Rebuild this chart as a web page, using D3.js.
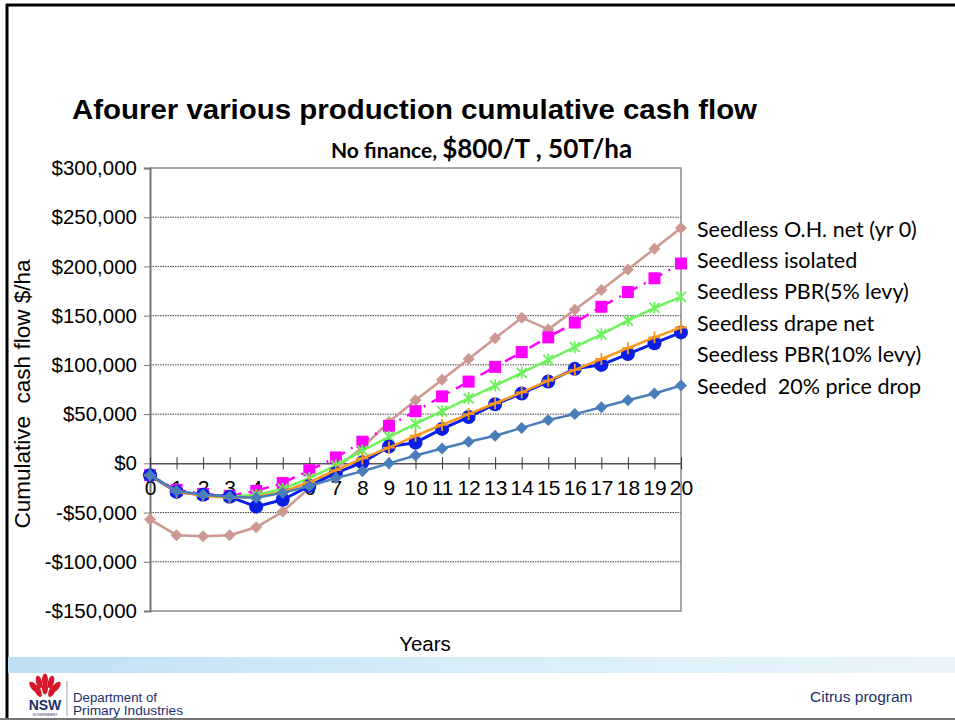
<!DOCTYPE html>
<html>
<head>
<meta charset="utf-8">
<script src="https://cdn.jsdelivr.net/npm/d3@7"></script>
<style>
  html, body { margin: 0; padding: 0; background: #fff; }
  svg { display: block; }
</style>
</head>
<body>
<script>
// data
const years = [0, 1, 2, 3, 4, 5, 6, 7, 8, 9, 10, 11, 12, 13, 14, 15, 16, 17, 18, 19, 20];
const yTicks = [-150000, -100000, -50000, 0, 50000, 100000, 150000, 200000, 250000, 300000];

const seriesNames = [
    'Seedless O.H. net (yr 0)',
    'Seedless isolated',
    'Seedless PBR(5% levy)',
    'Seedless drape net',
    'Seedless PBR(10% levy)',
    'Seeded  20% price drop'
];

const ohNet = [-57000, -73000, -74000, -73000, -65000, -49000, -25000, -5000, 16000, 42000, 64000,
    85000, 106000, 127000, 148000, 136000, 156000, 176000, 197000, 218000, 239000];
const isolated = [-12000, -27000, -31000, -33000, -28000, -20000, -7000, 6000, 22000, 38000, 53000,
    68000, 83000, 98000, 113000, 128000, 143000, 159000, 174000, 188000, 203000];
const pbr5 = [-12000, -29000, -32000, -34000, -32000, -26000, -15000, -2000, 13000, 27000, 40000,
    53000, 66000, 79000, 92000, 105000, 118000, 131000, 145000, 158000, 169000];
const drapeNet = [-12000, -29000, -33000, -35000, -34000, -29000, -19000, -7000, 5000, 16000, 28000,
    39000, 50000, 61000, 72000, 84000, 95000, 106000, 117000, 128000, 138000];
const pbr10 = [-12000, -29000, -32000, -34000, -44000, -37000, -23000, -10000, 1000, 17000, 21000,
    35000, 47000, 60000, 71000, 83000, 96000, 100000, 111000, 122000, 133000];
const seeded = [-12000, -28000, -32000, -34000, -35000, -30000, -23000, -15000, -8000, 0, 8000,
    15000, 22000, 28000, 36000, 44000, 50000, 57000, 64000, 71000, 79000];

const W = 955, H = 722;

const svg = d3.select('body').append('svg')
    .attr('width', W)
    .attr('height', H)
    .style('font-family', 'Arial, "Liberation Sans", sans-serif');

// slide frame
svg.append('line').attr('x1', 6).attr('x2', W).attr('y1', 5).attr('y2', 5)
    .attr('stroke', '#000').attr('stroke-width', 3);
svg.append('line').attr('x1', 7).attr('x2', 7).attr('y1', 4).attr('y2', 718)
    .attr('stroke', '#000').attr('stroke-width', 3);

// title
svg.append('text')
    .attr('x', 72).attr('y', 119)
    .attr('font-size', 27).attr('font-weight', 'bold')
    .attr('textLength', 685).attr('lengthAdjust', 'spacingAndGlyphs')
    .text('Afourer various production cumulative cash flow');

const sub = svg.append('text')
    .attr('x', 331).attr('y', 158)
    .attr('font-family', 'Lato, "Open Sans", sans-serif')
    .attr('font-weight', 'bold');
sub.append('tspan').attr('font-size', 21).text('No finance, ');
sub.append('tspan').attr('font-size', 26).text('$800/T , 50T/ha');

const x = d3.scaleLinear().domain([0, 20]).range([150, 681]);
const y = d3.scaleLinear().domain([-150000, 300000]).range([611, 168]);

// grid
svg.append('g')
    .selectAll('line')
    .data(yTicks.filter(d => d !== 0 && d !== 300000 && d !== -150000))
    .join('line')
    .attr('x1', x(0)).attr('x2', x(20))
    .attr('y1', d => y(d)).attr('y2', d => y(d))
    .attr('stroke', '#444').attr('stroke-width', 1)
    .attr('stroke-dasharray', '1.5,1');

// plot border
svg.append('path')
    .attr('d', `M${x(0)},${y(300000)}H${x(20)}V${y(-150000)}H${x(0)}`)
    .attr('fill', 'none').attr('stroke', '#8a8a8a').attr('stroke-width', 1.5);

// y axis
const fmt = d3.format(',');
const yAxis = svg.append('g')
    .attr('transform', `translate(${x(0)},0)`)
    .call(d3.axisLeft(y).tickValues(yTicks).tickSize(6).tickPadding(7)
        .tickFormat(d => (d < 0 ? '-$' : '$') + fmt(Math.abs(d))));
yAxis.select('.domain').attr('stroke', '#777').attr('stroke-width', 2);
yAxis.selectAll('.tick line').attr('stroke', '#777');
yAxis.selectAll('.tick text')
    .attr('font-size', 20.5).attr('fill', '#000')
    .attr('font-family', 'Arial, "Liberation Sans", sans-serif');

// x axis on zero line
const xAxis = svg.append('g')
    .attr('transform', `translate(0,${y(0)})`)
    .call(d3.axisBottom(x).tickValues(years).tickSizeInner(0).tickSizeOuter(0).tickPadding(17)
        .tickFormat(d3.format('d')));
xAxis.select('.domain').attr('stroke', '#555').attr('stroke-width', 1.5);
xAxis.selectAll('.tick line')
    .attr('y1', -6).attr('y2', 6)
    .attr('stroke', '#333').attr('stroke-width', 1);
xAxis.selectAll('.tick text')
    .attr('font-size', 21).attr('fill', '#000')
    .attr('font-family', 'Arial, "Liberation Sans", sans-serif');

// axis titles
svg.append('text')
    .attr('transform', 'translate(30,394) rotate(-90)')
    .attr('text-anchor', 'middle')
    .attr('font-size', 22.5)
    .attr('xml:space', 'preserve')
    .text('Cumulative  cash flow $/ha');

svg.append('text')
    .attr('x', 425).attr('y', 651)
    .attr('text-anchor', 'middle')
    .attr('font-size', 20.5)
    .text('Years');

// series
const series = [
    { name: seriesNames[0], values: ohNet, color: '#CD9891', width: 2.5, dash: null, marker: 'diamond' },
    { name: seriesNames[1], values: isolated, color: '#FF00FF', width: 2.5, dash: '12,7,2,7', marker: 'square' },
    { name: seriesNames[2], values: pbr5, color: '#6CF25A', width: 2.5, dash: null, marker: 'star' },
    { name: seriesNames[4], values: pbr10, color: '#0A1EE6', width: 3, dash: null, marker: 'circle' },
    { name: seriesNames[3], values: drapeNet, color: '#F7981D', width: 2.5, dash: null, marker: 'plus' },
    { name: seriesNames[5], values: seeded, color: '#4A7EBB', width: 2.5, dash: null, marker: 'diamond' }
];

const line = d3.line()
    .x((d, i) => x(years[i]))
    .y(d => y(d));

const markerPath = {
    diamond: 'M0,-6L6,0L0,6L-6,0Z',
    square: 'M-6,-6H6V6H-6Z',
    star: 'M-5,-5L5,5M-5,5L5,-5M0,-6V6',
    plus: 'M-6,0H6M0,-6V6'
};

series.forEach(s => {
    const g = svg.append('g');
    g.append('path')
        .datum(s.values)
        .attr('d', line)
        .attr('fill', 'none')
        .attr('stroke', s.color)
        .attr('stroke-width', s.width)
        .attr('stroke-dasharray', s.dash)
        .attr('stroke-linejoin', 'round');

    const pts = g.selectAll('.pt')
        .data(s.values)
        .join('g')
        .attr('transform', (d, i) => `translate(${x(years[i])},${y(d)})`);

    if (s.marker === 'circle') {
        pts.append('circle').attr('r', 7).attr('fill', s.color);
    } else if (s.marker === 'star' || s.marker === 'plus') {
        pts.append('path').attr('d', markerPath[s.marker])
            .attr('fill', 'none').attr('stroke', s.color).attr('stroke-width', 1.8);
    } else {
        pts.append('path').attr('d', markerPath[s.marker]).attr('fill', s.color);
    }
});

// legend (text only, stacked next to line ends)
const legendY = d3.scalePoint().domain(seriesNames).range([229, 386]);
svg.append('g')
    .selectAll('text')
    .data(seriesNames)
    .join('text')
    .attr('x', 697)
    .attr('y', d => legendY(d))
    .attr('dy', '0.35em')
    .attr('font-family', 'Lato, "Open Sans", sans-serif')
    .attr('font-size', 21.5)
    .attr('xml:space', 'preserve')
    .text(d => d);

// footer band
const defs = svg.append('defs');
const grad = defs.append('linearGradient').attr('id', 'band');
grad.append('stop').attr('offset', '0%').attr('stop-color', '#BEDFF3');
grad.append('stop').attr('offset', '45%').attr('stop-color', '#D6ECF8');
grad.append('stop').attr('offset', '100%').attr('stop-color', '#EAF5FB');
svg.append('rect')
    .attr('x', 8).attr('y', 657).attr('width', W - 8).attr('height', 16)
    .attr('fill', 'url(#band)');

// NSW logo
const logo = svg.append('g').attr('transform', 'translate(45,689)');
[[-11, -2, -40], [-6, -7, -15], [0, -9, 0], [6, -7, 15], [11, -2, 40], [-7, 2, -25], [7, 2, 25], [0, -1, 0]].forEach(p => {
    logo.append('ellipse')
        .attr('cx', p[0]).attr('cy', p[1])
        .attr('rx', 3).attr('ry', 6.5)
        .attr('transform', `rotate(${p[2]},${p[0]},${p[1]})`)
        .attr('fill', '#D7182A');
});
svg.append('text')
    .attr('x', 45).attr('y', 710)
    .attr('text-anchor', 'middle')
    .attr('font-size', 14).attr('font-weight', 'bold')
    .attr('fill', '#1C2F6B')
    .text('NSW');
svg.append('text')
    .attr('x', 45).attr('y', 716)
    .attr('text-anchor', 'middle')
    .attr('font-size', 3.5).attr('fill', '#1C2F6B')
    .text('GOVERNMENT');
svg.append('line')
    .attr('x1', 67).attr('x2', 67).attr('y1', 681).attr('y2', 716)
    .attr('stroke', '#9aa4b8').attr('stroke-width', 1);
svg.append('text')
    .attr('x', 73).attr('y', 702)
    .attr('font-size', 12.5).attr('fill', '#1C2F6B')
    .attr('textLength', 84).attr('lengthAdjust', 'spacingAndGlyphs')
    .text('Department of');
svg.append('text')
    .attr('x', 73).attr('y', 715)
    .attr('font-size', 12.5).attr('fill', '#1C2F6B')
    .attr('textLength', 110).attr('lengthAdjust', 'spacingAndGlyphs')
    .text('Primary Industries');

svg.append('text')
    .attr('x', 810).attr('y', 702)
    .attr('font-size', 15.5).attr('fill', '#1C2F6B')
    .text('Citrus program');

svg.append('line')
    .attr('x1', 0).attr('x2', W).attr('y1', 719).attr('y2', 719)
    .attr('stroke', '#777').attr('stroke-width', 2);
</script>
</body>
</html>
